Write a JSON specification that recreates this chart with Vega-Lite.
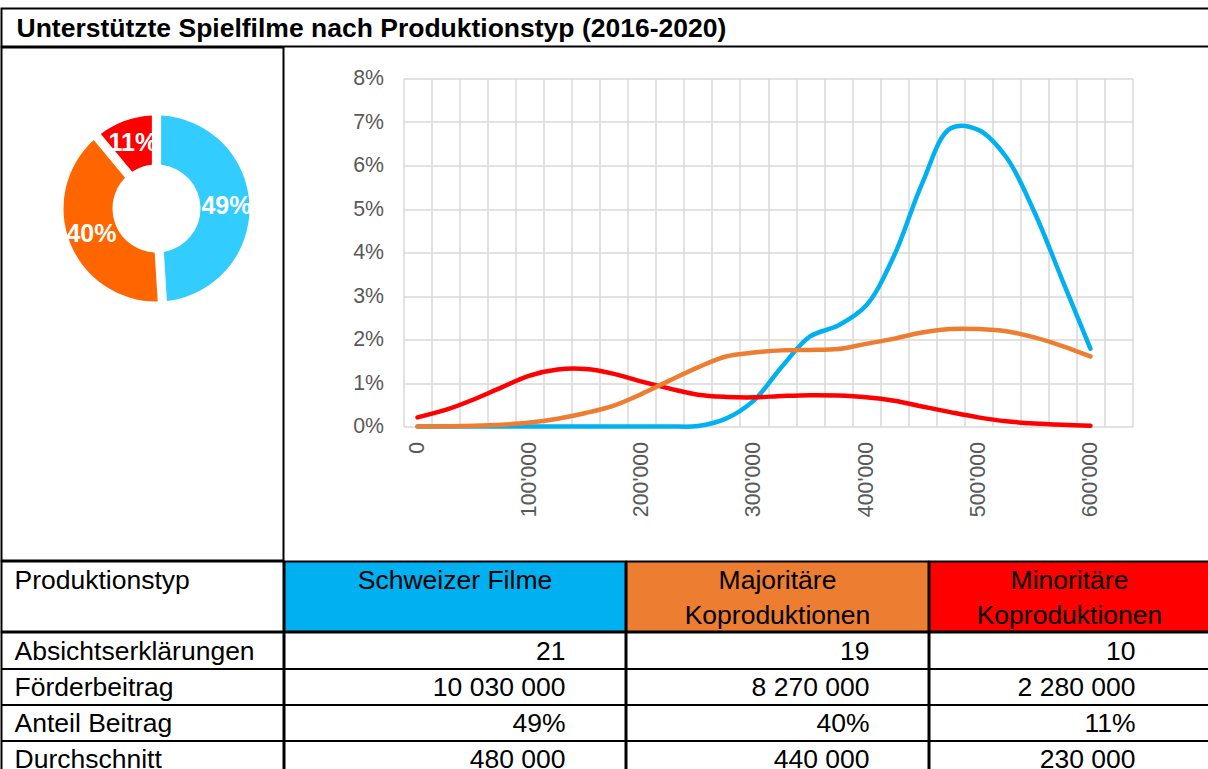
{
  "$schema": "https://vega.github.io/schema/vega-lite/v6.json",
  "padding": {"left": 0.5, "top": 7.5, "right": 0, "bottom": 0},
  "autosize": {"type": "pad"},
  "config": {
    "font": "Liberation Sans",
    "view": {"stroke": "black", "strokeWidth": 2},
    "text": {"font": "Liberation Sans"}
  },
  "datasets": {
    "titel": [{"titel": "Unterstützte Spielfilme nach Produktionstyp (2016-2020)"}],
    "anteile": [
      {"typ": "Schweizer Filme", "nr": 1, "anteil": 0.49},
      {"typ": "Majoritäre Koproduktionen", "nr": 2, "anteil": 0.40},
      {"typ": "Minoritäre Koproduktionen", "nr": 3, "anteil": 0.11}
    ],
    "kurven": [
      {"typ": "Schweizer Filme", "betrag": 0, "anteil": 0},
      {"typ": "Schweizer Filme", "betrag": 25000, "anteil": 0},
      {"typ": "Schweizer Filme", "betrag": 50000, "anteil": 0},
      {"typ": "Schweizer Filme", "betrag": 75000, "anteil": 0},
      {"typ": "Schweizer Filme", "betrag": 100000, "anteil": 0},
      {"typ": "Schweizer Filme", "betrag": 125000, "anteil": 0},
      {"typ": "Schweizer Filme", "betrag": 150000, "anteil": 0},
      {"typ": "Schweizer Filme", "betrag": 175000, "anteil": 0},
      {"typ": "Schweizer Filme", "betrag": 200000, "anteil": 0},
      {"typ": "Schweizer Filme", "betrag": 225000, "anteil": 0},
      {"typ": "Schweizer Filme", "betrag": 250000, "anteil": 0.0001},
      {"typ": "Schweizer Filme", "betrag": 275000, "anteil": 0.0018},
      {"typ": "Schweizer Filme", "betrag": 300000, "anteil": 0.006},
      {"typ": "Schweizer Filme", "betrag": 325000, "anteil": 0.0138},
      {"typ": "Schweizer Filme", "betrag": 350000, "anteil": 0.0207},
      {"typ": "Schweizer Filme", "betrag": 375000, "anteil": 0.0232},
      {"typ": "Schweizer Filme", "betrag": 400000, "anteil": 0.0278},
      {"typ": "Schweizer Filme", "betrag": 425000, "anteil": 0.0393},
      {"typ": "Schweizer Filme", "betrag": 450000, "anteil": 0.0559},
      {"typ": "Schweizer Filme", "betrag": 475000, "anteil": 0.0685},
      {"typ": "Schweizer Filme", "betrag": 500000, "anteil": 0.0682},
      {"typ": "Schweizer Filme", "betrag": 525000, "anteil": 0.0619},
      {"typ": "Schweizer Filme", "betrag": 550000, "anteil": 0.0493},
      {"typ": "Schweizer Filme", "betrag": 575000, "anteil": 0.0336},
      {"typ": "Schweizer Filme", "betrag": 600000, "anteil": 0.0179},
      {"typ": "Minoritäre Koproduktionen", "betrag": 0, "anteil": 0.0021},
      {"typ": "Minoritäre Koproduktionen", "betrag": 25000, "anteil": 0.0038},
      {"typ": "Minoritäre Koproduktionen", "betrag": 50000, "anteil": 0.0062},
      {"typ": "Minoritäre Koproduktionen", "betrag": 75000, "anteil": 0.009},
      {"typ": "Minoritäre Koproduktionen", "betrag": 100000, "anteil": 0.0117},
      {"typ": "Minoritäre Koproduktionen", "betrag": 125000, "anteil": 0.0131},
      {"typ": "Minoritäre Koproduktionen", "betrag": 150000, "anteil": 0.0132},
      {"typ": "Minoritäre Koproduktionen", "betrag": 175000, "anteil": 0.0121},
      {"typ": "Minoritäre Koproduktionen", "betrag": 200000, "anteil": 0.0103},
      {"typ": "Minoritäre Koproduktionen", "betrag": 225000, "anteil": 0.0087},
      {"typ": "Minoritäre Koproduktionen", "betrag": 250000, "anteil": 0.0073},
      {"typ": "Minoritäre Koproduktionen", "betrag": 275000, "anteil": 0.0068},
      {"typ": "Minoritäre Koproduktionen", "betrag": 300000, "anteil": 0.0067},
      {"typ": "Minoritäre Koproduktionen", "betrag": 325000, "anteil": 0.007},
      {"typ": "Minoritäre Koproduktionen", "betrag": 350000, "anteil": 0.0072},
      {"typ": "Minoritäre Koproduktionen", "betrag": 375000, "anteil": 0.0071},
      {"typ": "Minoritäre Koproduktionen", "betrag": 400000, "anteil": 0.0067},
      {"typ": "Minoritäre Koproduktionen", "betrag": 425000, "anteil": 0.0059},
      {"typ": "Minoritäre Koproduktionen", "betrag": 450000, "anteil": 0.0046},
      {"typ": "Minoritäre Koproduktionen", "betrag": 475000, "anteil": 0.0033},
      {"typ": "Minoritäre Koproduktionen", "betrag": 500000, "anteil": 0.0021},
      {"typ": "Minoritäre Koproduktionen", "betrag": 525000, "anteil": 0.0012},
      {"typ": "Minoritäre Koproduktionen", "betrag": 550000, "anteil": 0.0007},
      {"typ": "Minoritäre Koproduktionen", "betrag": 575000, "anteil": 0.0004},
      {"typ": "Minoritäre Koproduktionen", "betrag": 600000, "anteil": 0.0002},
      {"typ": "Majoritäre Koproduktionen", "betrag": 0, "anteil": 0},
      {"typ": "Majoritäre Koproduktionen", "betrag": 25000, "anteil": 0.00005},
      {"typ": "Majoritäre Koproduktionen", "betrag": 50000, "anteil": 0.00015},
      {"typ": "Majoritäre Koproduktionen", "betrag": 75000, "anteil": 0.0004},
      {"typ": "Majoritäre Koproduktionen", "betrag": 100000, "anteil": 0.0009},
      {"typ": "Majoritäre Koproduktionen", "betrag": 125000, "anteil": 0.0018},
      {"typ": "Majoritäre Koproduktionen", "betrag": 150000, "anteil": 0.0031},
      {"typ": "Majoritäre Koproduktionen", "betrag": 175000, "anteil": 0.0048},
      {"typ": "Majoritäre Koproduktionen", "betrag": 200000, "anteil": 0.0075},
      {"typ": "Majoritäre Koproduktionen", "betrag": 225000, "anteil": 0.0106},
      {"typ": "Majoritäre Koproduktionen", "betrag": 250000, "anteil": 0.0136},
      {"typ": "Majoritäre Koproduktionen", "betrag": 275000, "anteil": 0.0161},
      {"typ": "Majoritäre Koproduktionen", "betrag": 300000, "anteil": 0.017},
      {"typ": "Majoritäre Koproduktionen", "betrag": 325000, "anteil": 0.0175},
      {"typ": "Majoritäre Koproduktionen", "betrag": 350000, "anteil": 0.0176},
      {"typ": "Majoritäre Koproduktionen", "betrag": 375000, "anteil": 0.0178},
      {"typ": "Majoritäre Koproduktionen", "betrag": 400000, "anteil": 0.019},
      {"typ": "Majoritäre Koproduktionen", "betrag": 425000, "anteil": 0.0202},
      {"typ": "Majoritäre Koproduktionen", "betrag": 450000, "anteil": 0.0216},
      {"typ": "Majoritäre Koproduktionen", "betrag": 475000, "anteil": 0.0224},
      {"typ": "Majoritäre Koproduktionen", "betrag": 500000, "anteil": 0.0224},
      {"typ": "Majoritäre Koproduktionen", "betrag": 525000, "anteil": 0.0219},
      {"typ": "Majoritäre Koproduktionen", "betrag": 550000, "anteil": 0.0205},
      {"typ": "Majoritäre Koproduktionen", "betrag": 575000, "anteil": 0.0185},
      {"typ": "Majoritäre Koproduktionen", "betrag": 600000, "anteil": 0.0161}
    ],
    "tabelle": [
      {"spalte": "Produktionstyp", "zeile": "Kopf1", "text": "Produktionstyp"},
      {"spalte": "Produktionstyp", "zeile": "Absichtserklärungen", "text": "Absichtserklärungen"},
      {"spalte": "Produktionstyp", "zeile": "Förderbeitrag", "text": "Förderbeitrag"},
      {"spalte": "Produktionstyp", "zeile": "Anteil Beitrag", "text": "Anteil Beitrag"},
      {"spalte": "Produktionstyp", "zeile": "Durchschnitt", "text": "Durchschnitt"},
      {"spalte": "Schweizer Filme", "zeile": "Kopf1", "text": "Schweizer Filme"},
      {"spalte": "Schweizer Filme", "zeile": "Absichtserklärungen", "text": "21"},
      {"spalte": "Schweizer Filme", "zeile": "Förderbeitrag", "text": "10 030 000"},
      {"spalte": "Schweizer Filme", "zeile": "Anteil Beitrag", "text": "49%"},
      {"spalte": "Schweizer Filme", "zeile": "Durchschnitt", "text": "480 000"},
      {"spalte": "Majoritäre Koproduktionen", "zeile": "Kopf1", "text": "Majoritäre"},
      {"spalte": "Majoritäre Koproduktionen", "zeile": "Kopf2", "text": "Koproduktionen"},
      {"spalte": "Majoritäre Koproduktionen", "zeile": "Absichtserklärungen", "text": "19"},
      {"spalte": "Majoritäre Koproduktionen", "zeile": "Förderbeitrag", "text": "8 270 000"},
      {"spalte": "Majoritäre Koproduktionen", "zeile": "Anteil Beitrag", "text": "40%"},
      {"spalte": "Majoritäre Koproduktionen", "zeile": "Durchschnitt", "text": "440 000"},
      {"spalte": "Minoritäre Koproduktionen", "zeile": "Kopf1", "text": "Minoritäre"},
      {"spalte": "Minoritäre Koproduktionen", "zeile": "Kopf2", "text": "Koproduktionen"},
      {"spalte": "Minoritäre Koproduktionen", "zeile": "Absichtserklärungen", "text": "10"},
      {"spalte": "Minoritäre Koproduktionen", "zeile": "Förderbeitrag", "text": "2 280 000"},
      {"spalte": "Minoritäre Koproduktionen", "zeile": "Anteil Beitrag", "text": "11%"},
      {"spalte": "Minoritäre Koproduktionen", "zeile": "Durchschnitt", "text": "230 000"}
    ]
  },
  "spacing": -3,
  "vconcat": [
    {
      "width": 1208,
      "height": 38,
      "view": {"stroke": "black", "strokeWidth": 2},
      "data": {"name": "titel"},
      "mark": {"type": "text", "align": "left", "baseline": "middle", "dx": -589, "dy": 1, "fontSize": 26.5, "fontWeight": "bold", "color": "black"},
      "encoding": {
        "y": {"field": "titel", "type": "nominal", "scale": {"type": "band", "paddingInner": 0, "paddingOuter": 0}, "axis": null},
        "text": {"field": "titel"}
      }
    },
    {
      "spacing": -1.5,
      "hconcat": [
        {
          "width": 282,
          "height": 513,
          "view": {"stroke": "black", "strokeWidth": 2},
          "data": {"name": "anteile"},
          "encoding": {
            "x": {"datum": 0.5, "type": "quantitative", "scale": {"domain": [0, 1]}, "axis": null},
            "y": {"datum": 0.5, "type": "quantitative", "scale": {"domain": [0, 1]}, "axis": null},
            "theta": {"field": "anteil", "type": "quantitative", "stack": true},
            "order": {"field": "nr", "type": "quantitative"}
          },
          "layer": [
            {
              "mark": {"type": "arc", "innerRadius": 44, "outerRadius": 93, "padAngle": 0.09, "xOffset": 14, "yOffset": -95.5},
              "encoding": {
                "fill": {"field": "typ", "type": "nominal", "scale": {"domain": ["Schweizer Filme", "Majoritäre Koproduktionen", "Minoritäre Koproduktionen"], "range": ["#33CCFF", "#FF6600", "#FF0000"]}, "legend": null}
              }
            },
            {
              "mark": {"type": "text", "radius": 70, "xOffset": 14, "yOffset": -95.5, "fill": "white", "fontSize": 25, "fontWeight": "bold", "baseline": "middle", "align": "center"},
              "encoding": {"text": {"field": "anteil", "type": "quantitative", "format": ".0%"}}
            }
          ]
        },
        {
          "width": 923,
          "height": 513,
          "view": {"stroke": null},
          "data": {"name": "kurven"},
          "encoding": {
            "y": {
              "field": "anteil", "type": "quantitative",
              "scale": {"domain": [0, 0.08], "range": [379, 31], "nice": false, "zero": true},
              "axis": {"values": [0, 0.01, 0.02, 0.03, 0.04, 0.05, 0.06, 0.07, 0.08], "format": ".0%", "orient": "left", "offset": -119, "grid": true, "gridColor": "#D9D9D9", "gridWidth": 1.5, "domain": false, "ticks": false, "tickSize": 0, "labelPadding": 20, "labelFontSize": 21.3, "labelColor": "#595959", "labelFont": "Liberation Sans", "title": null}
            },
            "color": {"field": "typ", "type": "nominal", "scale": {"domain": ["Schweizer Filme", "Majoritäre Koproduktionen", "Minoritäre Koproduktionen"], "range": ["#00B0F0", "#ED7D31", "#FF0000"]}, "legend": null}
          },
          "layer": [
            {
              "transform": [{"filter": {"field": "typ", "equal": "Schweizer Filme"}}],
              "mark": {"type": "line", "interpolate": "catmull-rom", "strokeWidth": 4.5, "strokeCap": "round", "strokeJoin": "round"},
              "encoding": {
                "x": {
                  "field": "betrag", "type": "quantitative",
                  "scale": {"domain": [-12500, 637500], "range": [119, 848], "nice": false, "zero": false},
                  "axis": {"orient": "top", "values": [-12500, 12500, 37500, 62500, 87500, 112500, 137500, 162500, 187500, 212500, 237500, 262500, 287500, 312500, 337500, 362500, 387500, 412500, 437500, 462500, 487500, 512500, 537500, 562500, 587500, 612500, 637500], "grid": true, "gridColor": "#D9D9D9", "gridWidth": 1.5, "labels": false, "ticks": false, "domain": false, "title": null}
                }
              }
            },
            {
              "transform": [{"filter": {"not": {"field": "typ", "equal": "Schweizer Filme"}}}],
              "mark": {"type": "line", "interpolate": "catmull-rom", "strokeWidth": 4.5, "strokeCap": "round", "strokeJoin": "round"},
              "encoding": {
                "x": {
                  "field": "betrag", "type": "quantitative",
                  "scale": {"domain": [-12500, 637500], "range": [119, 848], "nice": false, "zero": false},
                  "axis": {"orient": "bottom", "offset": -134, "values": [0, 100000, 200000, 300000, 400000, 500000, 600000], "labelExpr": "replace(format(datum.value, ','), ',', \"'\")", "labelAngle": 270, "labelPadding": 15, "labelFontSize": 21.3, "labelColor": "#595959", "labelFont": "Liberation Sans", "grid": false, "ticks": false, "tickSize": 0, "domain": false, "title": null}
                }
              }
            }
          ],
          "resolve": {"axis": {"x": "independent"}}
        }
      ]
    },
    {
      "spacing": -3,
      "hconcat": [
        {
          "width": 282, "height": 70,
          "view": {"stroke": "black", "strokeWidth": 2},
          "data": {"name": "tabelle"},
          "transform": [{"filter": {"field": "spalte", "equal": "Produktionstyp"}}, {"filter": {"field": "zeile", "oneOf": ["Kopf1", "Kopf2"]}}],
          "mark": {"type": "text", "align": "left", "dx": -128, "dy": 2, "fontSize": 26.5, "color": "black"},
          "encoding": {
            "y": {"field": "zeile", "type": "nominal", "scale": {"type": "band", "domain": ["Kopf1", "Kopf2"], "paddingInner": 0, "paddingOuter": 0}, "axis": null},
            "text": {"field": "text"}
          }
        },
        {
          "width": 341, "height": 70,
          "view": {"fill": "#00B0F0", "stroke": "black", "strokeWidth": 2},
          "data": {"name": "tabelle"},
          "transform": [{"filter": {"field": "spalte", "equal": "Schweizer Filme"}}, {"filter": {"field": "zeile", "oneOf": ["Kopf1", "Kopf2"]}}],
          "mark": {"type": "text", "align": "center", "dy": 2, "fontSize": 26.5, "color": "black"},
          "encoding": {
            "y": {"field": "zeile", "type": "nominal", "scale": {"type": "band", "domain": ["Kopf1", "Kopf2"], "paddingInner": 0, "paddingOuter": 0}, "axis": null},
            "text": {"field": "text"}
          }
        },
        {
          "width": 302, "height": 70,
          "view": {"fill": "#ED7D31", "stroke": "black", "strokeWidth": 2},
          "data": {"name": "tabelle"},
          "transform": [{"filter": {"field": "spalte", "equal": "Majoritäre Koproduktionen"}}, {"filter": {"field": "zeile", "oneOf": ["Kopf1", "Kopf2"]}}],
          "mark": {"type": "text", "align": "center", "dy": 2, "fontSize": 26.5, "color": "black"},
          "encoding": {
            "y": {"field": "zeile", "type": "nominal", "scale": {"type": "band", "domain": ["Kopf1", "Kopf2"], "paddingInner": 0, "paddingOuter": 0}, "axis": null},
            "text": {"field": "text"}
          }
        },
        {
          "width": 283, "height": 70,
          "view": {"fill": "#FF0000", "stroke": "black", "strokeWidth": 2},
          "data": {"name": "tabelle"},
          "transform": [{"filter": {"field": "spalte", "equal": "Minoritäre Koproduktionen"}}, {"filter": {"field": "zeile", "oneOf": ["Kopf1", "Kopf2"]}}],
          "mark": {"type": "text", "align": "center", "dx": -1.5, "dy": 2, "fontSize": 26.5, "color": "black"},
          "encoding": {
            "y": {"field": "zeile", "type": "nominal", "scale": {"type": "band", "domain": ["Kopf1", "Kopf2"], "paddingInner": 0, "paddingOuter": 0}, "axis": null},
            "text": {"field": "text"}
          }
        }
      ]
    },
    {
      "spacing": -3,
      "hconcat": [
        {
          "width": 282, "height": 144,
          "view": {"stroke": "black", "strokeWidth": 2},
          "data": {"name": "tabelle"},
          "transform": [{"filter": {"field": "spalte", "equal": "Produktionstyp"}}, {"filter": {"not": {"field": "zeile", "oneOf": ["Kopf1", "Kopf2"]}}}],
          "mark": {"type": "text", "align": "left", "dx": -128, "dy": 1, "fontSize": 26.5, "color": "black"},
          "encoding": {
            "y": {"field": "zeile", "type": "nominal", "scale": {"type": "band", "domain": ["Absichtserklärungen", "Förderbeitrag", "Anteil Beitrag", "Durchschnitt"], "paddingInner": 0, "paddingOuter": 0},
              "axis": {"values": ["Förderbeitrag", "Anteil Beitrag", "Durchschnitt"], "bandPosition": 0, "grid": true, "gridColor": "black", "gridWidth": 2, "labels": false, "ticks": false, "domain": false, "title": null}},
            "text": {"field": "text"}
          }
        },
        {
          "width": 341, "height": 144,
          "view": {"stroke": "black", "strokeWidth": 2},
          "data": {"name": "tabelle"},
          "transform": [{"filter": {"field": "spalte", "equal": "Schweizer Filme"}}, {"filter": {"not": {"field": "zeile", "oneOf": ["Kopf1", "Kopf2"]}}}],
          "mark": {"type": "text", "align": "right", "dx": 110.5, "dy": 1, "fontSize": 26.5, "color": "black"},
          "encoding": {
            "y": {"field": "zeile", "type": "nominal", "scale": {"type": "band", "domain": ["Absichtserklärungen", "Förderbeitrag", "Anteil Beitrag", "Durchschnitt"], "paddingInner": 0, "paddingOuter": 0},
              "axis": {"values": ["Förderbeitrag", "Anteil Beitrag", "Durchschnitt"], "bandPosition": 0, "grid": true, "gridColor": "black", "gridWidth": 2, "labels": false, "ticks": false, "domain": false, "title": null}},
            "text": {"field": "text"}
          }
        },
        {
          "width": 302, "height": 144,
          "view": {"stroke": "black", "strokeWidth": 2},
          "data": {"name": "tabelle"},
          "transform": [{"filter": {"field": "spalte", "equal": "Majoritäre Koproduktionen"}}, {"filter": {"not": {"field": "zeile", "oneOf": ["Kopf1", "Kopf2"]}}}],
          "mark": {"type": "text", "align": "right", "dx": 92, "dy": 1, "fontSize": 26.5, "color": "black"},
          "encoding": {
            "y": {"field": "zeile", "type": "nominal", "scale": {"type": "band", "domain": ["Absichtserklärungen", "Förderbeitrag", "Anteil Beitrag", "Durchschnitt"], "paddingInner": 0, "paddingOuter": 0},
              "axis": {"values": ["Förderbeitrag", "Anteil Beitrag", "Durchschnitt"], "bandPosition": 0, "grid": true, "gridColor": "black", "gridWidth": 2, "labels": false, "ticks": false, "domain": false, "title": null}},
            "text": {"field": "text"}
          }
        },
        {
          "width": 283, "height": 144,
          "view": {"stroke": "black", "strokeWidth": 2},
          "data": {"name": "tabelle"},
          "transform": [{"filter": {"field": "spalte", "equal": "Minoritäre Koproduktionen"}}, {"filter": {"not": {"field": "zeile", "oneOf": ["Kopf1", "Kopf2"]}}}],
          "mark": {"type": "text", "align": "right", "dx": 64.5, "dy": 1, "fontSize": 26.5, "color": "black"},
          "encoding": {
            "y": {"field": "zeile", "type": "nominal", "scale": {"type": "band", "domain": ["Absichtserklärungen", "Förderbeitrag", "Anteil Beitrag", "Durchschnitt"], "paddingInner": 0, "paddingOuter": 0},
              "axis": {"values": ["Förderbeitrag", "Anteil Beitrag", "Durchschnitt"], "bandPosition": 0, "grid": true, "gridColor": "black", "gridWidth": 2, "labels": false, "ticks": false, "domain": false, "title": null}},
            "text": {"field": "text"}
          }
        }
      ]
    }
  ]
}
